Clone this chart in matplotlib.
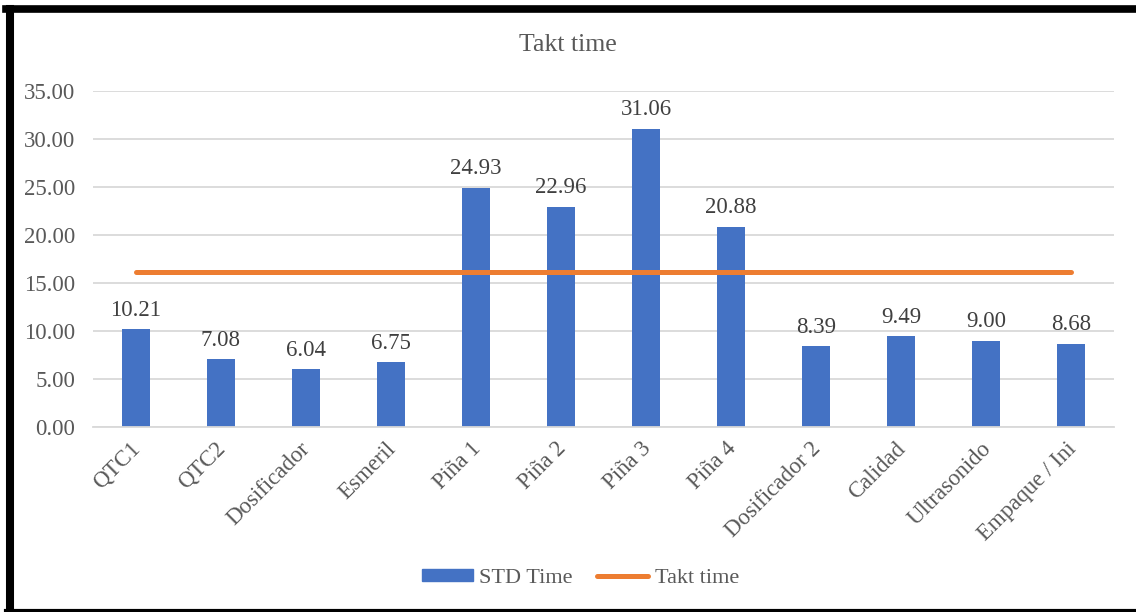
import matplotlib
matplotlib.use("Agg")
import matplotlib.pyplot as plt
import matplotlib.transforms as mtransforms
from matplotlib.lines import Line2D
import numpy as np

# Stations and their standard times
stations = ["QTC1", "QTC2", "Dosificador", "Esmeril", "Piña 1", "Piña 2",
            "Piña 3", "Piña 4", "Dosificador 2", "Calidad", "Ultrasonido",
            "Empaque / Ini"]
std_time = [10.21, 7.08, 6.04, 6.75, 24.93, 22.96, 31.06, 20.88, 8.39,
            9.49, 9.00, 8.68]
takt_time = [16.15] * len(stations)

plt.rcParams["font.family"] = ["Liberation Serif", "DejaVu Serif"]

BLUE = "#4472C4"
ORANGE = "#ED7D31"
GRID = "#D9D9D9"
TEXT = "#595959"

fig = plt.figure(figsize=(11.36, 6.12), dpi=100)
ax = fig.add_axes([0.0819, 0.3023, 0.8987, 0.549])

x = np.arange(len(stations))
ax.bar(x, std_time, width=0.33, color=BLUE, zorder=2, label="STD Time")
ax.plot(x, takt_time, color=ORANGE, lw=3.6, solid_capstyle="round",
        zorder=3, label="Takt time")

# value labels over each bar
for xi, v in zip(x, std_time):
    ax.annotate(f"{v:.2f}", (xi, v), xytext=(0, 6), textcoords="offset points",
                ha="center", va="bottom", fontsize=16.5, color="#404040")

ax.set_xlim(-0.5, len(stations) - 0.5)
ax.set_ylim(0, 35)
ax.set_yticks(np.arange(0, 36, 5))
ax.set_yticklabels([f"{t:.2f}" for t in np.arange(0, 36, 5)])
ax.set_xticks(x)
ax.set_xticklabels(stations, rotation=45, ha="right", rotation_mode="anchor")
ax.tick_params(axis="both", length=0, labelsize=16.5, labelcolor=TEXT)
ax.tick_params(axis="y", pad=13)
ax.tick_params(axis="x", pad=8)
# nudge the slanted labels a little to the left of each tick
shift = mtransforms.ScaledTranslation(-6 / 100, 0, fig.dpi_scale_trans)
for lbl in ax.get_xticklabels():
    lbl.set_transform(lbl.get_transform() + shift)
ax.yaxis.grid(True, color=GRID, lw=1.3, zorder=0)
ax.set_axisbelow(True)
for s in ["top", "right", "left"]:
    ax.spines[s].set_visible(False)
ax.spines["bottom"].set_color(GRID)
ax.spines["bottom"].set_linewidth(1.3)

fig.text(0.5, 0.926, "Takt time", ha="center", va="center", fontsize=18.5,
         color=TEXT)

handles = [plt.Rectangle((0, 0), 1, 1, color=BLUE),
           Line2D([0], [0], color=ORANGE, lw=3.6, solid_capstyle="round")]
fig.legend(handles, ["STD Time", "Takt time"], loc="center",
           bbox_to_anchor=(0.511, 0.055), ncol=2, frameon=False, fontsize=16,
           labelcolor=TEXT, handlelength=2.3, handleheight=0.45,
           handletextpad=0.3, columnspacing=1.1)

# black frame around the chart
fig.add_artist(Line2D([10 / 1136, 10 / 1136], [0, 1 - 8.5 / 612],
                      transform=fig.transFigure, color="black", lw=5.8))
fig.add_artist(Line2D([6 / 1136, 1], [1 - 8.5 / 612, 1 - 8.5 / 612],
                      transform=fig.transFigure, color="black", lw=5.5))
fig.add_artist(Line2D([6 / 1136, 1], [1.5 / 612, 1.5 / 612],
                      transform=fig.transFigure, color="black", lw=3))

fig.savefig("out.png", dpi=100)
